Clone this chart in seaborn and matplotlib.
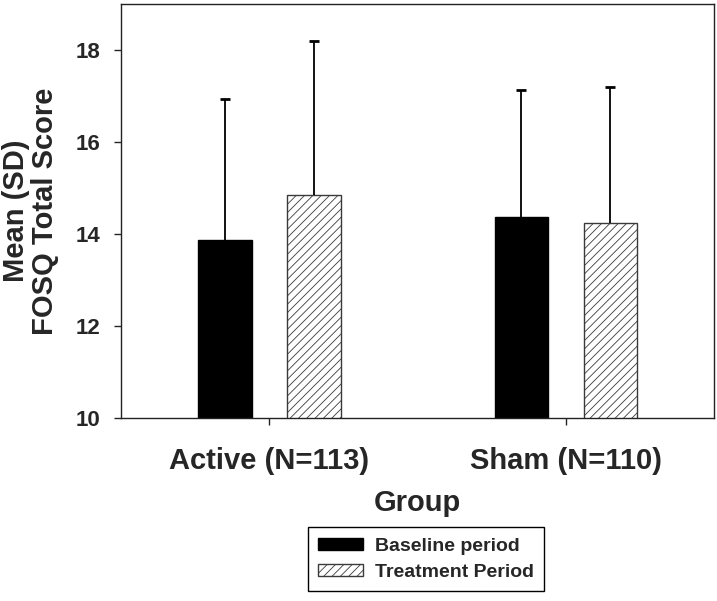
import pandas as pd
import matplotlib
matplotlib.use('Agg')
import matplotlib.pyplot as plt
from matplotlib.patches import Patch
import seaborn as sns

# values (mean and SD of FOSQ total score)
groups = ['Active (N=113)', 'Sham (N=110)']
periods = ['Baseline period', 'Treatment Period']
baseline_mean = [13.88, 14.38]
baseline_sd = [3.05, 2.75]
treatment_mean = [14.86, 14.25]
treatment_sd = [3.34, 2.95]
y_ticks = [10, 12, 14, 16, 18]

df = pd.DataFrame({
    'Group': groups * 2,
    'Period': [periods[0]] * 2 + [periods[1]] * 2,
    'Mean': baseline_mean + treatment_mean,
})

sns.set_style('ticks')
plt.rcParams['font.family'] = ['Liberation Sans', 'DejaVu Sans']
plt.rcParams['font.weight'] = 'bold'
plt.rcParams['hatch.linewidth'] = 0.6

fig = plt.figure(figsize=(7.17, 6.01), dpi=100)
ax = fig.add_axes([0.169, 0.3045, 0.827, 0.6885])

#bars, black for baseline and white (hatched) for treatment
sns.barplot(
    data=df, x='Group', y='Mean', hue='Period',
    order=groups, hue_order=periods,
    palette=['black', 'white'],
    width=0.6, gap=0.4,
    errorbar=None, edgecolor='black', linewidth=1,
    legend=False, ax=ax
)

# hatch on the treatment bars, then upward SD whiskers
for bar in ax.containers[1]:
    bar.set_hatch('////')
    bar.set_edgecolor('#3a3a3a')

for container, sds in zip(ax.containers[:2], [baseline_sd, treatment_sd]):
    xs = [b.get_x() + b.get_width() / 2 for b in container]
    ys = [b.get_height() for b in container]
    eb = ax.errorbar(xs, ys, yerr=[[0] * len(sds), sds], fmt='none',
                     ecolor='black', elinewidth=1.3, capsize=3.3, capthick=2)
    eb[1][0].set_visible(False)  # no cap at the bar top

ax.set_xlim(-0.5, 1.5)
ax.set_ylim(10, 19)
ax.set_yticks(y_ticks)
ax.tick_params(axis='y', labelsize=16, length=5, width=1, direction='out', pad=10)
ax.tick_params(axis='x', labelsize=21, length=5, width=1, pad=16)
for lbl in ax.get_xticklabels() + ax.get_yticklabels():
    lbl.set_fontweight('bold')
for s in ax.spines.values():
    s.set_linewidth(1)
    s.set_color('#222222')

ax.set_xlabel('Group', fontsize=21, fontweight='bold', labelpad=10)
ax.set_ylabel('Mean (SD)\nFOSQ Total Score', fontsize=21, fontweight='bold',
              labelpad=12, linespacing=1.05)

handles = [
    Patch(facecolor='black', edgecolor='black', label=periods[0]),
    Patch(facecolor='white', edgecolor='#3a3a3a', hatch='////', label=periods[1]),
]
fig.legend(handles=handles, loc='upper center', bbox_to_anchor=(0.594, 0.123),
           borderaxespad=0, frameon=True, fancybox=False, framealpha=1,
           edgecolor='black', prop={'size': 14, 'weight': 'bold'},
           handlelength=2.3, handleheight=0.6, borderpad=0.55,
           labelspacing=0.45, handletextpad=0.6)

fig.savefig('out.png', dpi=100)
